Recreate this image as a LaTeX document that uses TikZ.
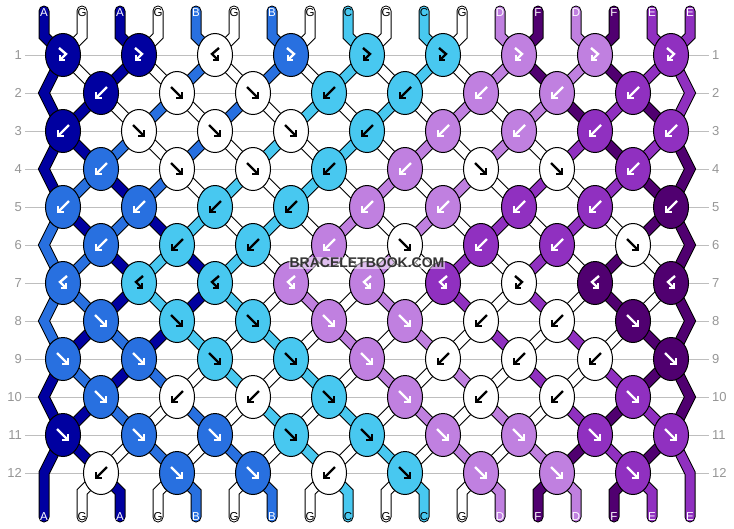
\documentclass[tikz,border=0pt]{standalone}
\usepackage{fontspec}
\setmainfont{Liberation Sans}
\usetikzlibrary{shapes.geometric}
\definecolor{colA}{RGB}{0,0,160}
\definecolor{colB}{RGB}{40,112,224}
\definecolor{colC}{RGB}{72,200,240}
\definecolor{colD}{RGB}{192,128,224}
\definecolor{colE}{RGB}{144,48,192}
\definecolor{colF}{RGB}{80,0,112}
\definecolor{colG}{RGB}{255,255,255}
\colorlet{tipA}{white}
\colorlet{tipB}{white}
\colorlet{tipC}{black}
\colorlet{tipD}{white}
\colorlet{tipE}{white}
\colorlet{tipF}{white}
\colorlet{tipG}{black}
\definecolor{rowgray}{RGB}{190,190,190}
\definecolor{numgray}{RGB}{150,150,150}
\pgfdeclarelayer{back}
\pgfdeclarelayer{strands}
\pgfsetlayers{back,strands,main}
\tikzstyle{knot} = [ellipse, draw=black, line width=1pt, minimum width=35pt, minimum height=43pt, inner sep=0pt]
\tikzstyle{strand} = [line width=1pt, double distance=9pt, line join=miter, line cap=round]
\tikzstyle{glyph} = [line width=2.4pt, line join=miter, line cap=butt]
\tikzstyle{rowline} = [draw=rowgray, line width=0.8pt]
\tikzstyle{rownum} = [text=numgray, font=\fontsize{13}{14}\selectfont, inner sep=3pt]
\tikzstyle{strlabel} = [font=\fontsize{11.5}{12}\selectfont, inner sep=0pt]
\tikzstyle{watermark} = [font=\bfseries\fontsize{14}{15}\selectfont, text=black!80, fill=white, fill opacity=0.5, text opacity=1, inner sep=1pt]
\tikzset{
  pics/arrF/.style={code={\draw[glyph] (-6,-6) -- (4,4); \draw[glyph] (5,-1) -- (5,5) -- (-1,5);}},
  pics/arrB/.style={code={\draw[glyph] (6,-6) -- (-4,4); \draw[glyph] (-5,-1) -- (-5,5) -- (1,5);}},
  pics/arrFB/.style={code={\draw[glyph] (-4,-7) -- (3,-1) -- (-2,4); \draw[glyph] (-3,0) -- (-3,5) -- (2,5);}},
  pics/arrBF/.style={code={\draw[glyph] (4,-7) -- (-3,-1) -- (2,4); \draw[glyph] (3,0) -- (3,5) -- (-2,5);}}
}
\begin{document}
\begin{tikzpicture}[x=1pt, y=-1pt]
\useasboundingbox (0,0) rectangle (734,528);
\begin{pgfonlayer}{back}
\fill[white] (0,0) rectangle (734,528);
\end{pgfonlayer}

% knots, row by row: colour/type
\foreach \r/\knots in {
  1/{A/FB,A/FB,G/BF,B/FB,C/FB,C/FB,D/FB,D/FB,E/FB},
  2/{A/B,G/F,G/F,C/B,C/B,D/B,D/B,E/B},
  3/{A/B,G/F,G/F,G/F,C/B,D/B,D/B,E/B,E/B},
  4/{B/B,G/F,G/F,C/B,D/B,G/F,G/F,E/B},
  5/{B/B,B/B,C/B,C/B,D/B,D/B,E/B,E/B,F/B},
  6/{B/B,C/B,C/B,D/B,G/F,E/B,E/B,G/F},
  7/{B/BF,C/BF,C/BF,D/BF,D/BF,E/BF,G/FB,F/BF,F/BF},
  8/{B/F,C/F,C/F,D/F,D/F,G/B,G/B,F/F},
  9/{B/F,B/F,C/F,C/F,D/F,G/B,G/B,G/B,F/F},
  10/{B/F,G/B,G/B,C/F,D/F,G/B,G/B,E/F},
  11/{A/F,B/F,B/F,C/F,C/F,D/F,D/F,E/F,E/F},
  12/{G/B,B/F,B/F,G/B,C/F,D/F,D/F,E/F}}{
  \pgfmathsetmacro\ky{55+38*(\r-1)}
  \foreach \c/\t [count=\j] in \knots {
    \pgfmathsetmacro\kx{63+38*mod(\r+1,2)+76*(\j-1)}
    \node[knot, fill=col\c] (k\r-\j) at (\kx,\ky) {};
    \pic[color=tip\c] at (k\r-\j) {arr\t};
  }
}
\foreach \r in {2,4,...,12}{
  \pgfmathsetmacro\ky{55+38*(\r-1)}
  \coordinate (k\r-0) at (44,\ky);
  \coordinate (k\r-9) at (690,\ky);
}

% string ends
\foreach \p/\c in {0/A,1/G,2/A,3/G,4/B,5/G,6/B,7/G,8/C,9/G,10/C,11/G,12/D,13/F,14/D,15/F,16/E,17/E}{
  \pgfmathsetmacro\sx{44+38*\p}
  \coordinate (top\p) at (\sx,11);
  \coordinate (topbend\p) at (\sx,36);
  \coordinate (botbend\p) at (\sx,492);
  \coordinate (bot\p) at (\sx,517);
  \node[strlabel, text=tip\c] (lt\p) at (\sx,12.5) {\c};
  \node[strlabel, text=tip\c] (lb\p) at (\sx,517) {\c};
}

% strings
\begin{pgfonlayer}{strands}
\foreach \s/\c in {0/A,1/G,2/A,3/G,4/B,5/G,6/B,7/G,8/C,9/G,10/C,11/G,12/D,13/F,14/D,15/F,16/E,17/E}{
  \xdef\strpath{(top\s) -- (topbend\s)}
  \foreach \r in {1,...,12}{
    \pgfmathtruncatemacro\m{max(0,min(\r-2,13-\r))}
    \pgfmathtruncatemacro\u{mod(\s,2)==0 ? \s-\m : \s+\m}
    \pgfmathtruncatemacro\q{\u<0 ? -1-(\u) : (\u>17 ? 35-\u : \u)}
    \pgfmathtruncatemacro\j{floor((\q+1+mod(\r,2))/2)}
    \xdef\strpath{\strpath -- (k\r-\j.center)}
  }
  \draw[strand, double=col\c] \strpath -- (botbend\s) -- (bot\s);
}
\end{pgfonlayer}

% row numbers
\foreach \r in {1,...,12}{
  \pgfmathsetmacro\ky{55+38*(\r-1)}
  \node[rownum, anchor=east] (rl\r) at (25,\ky) {\r};
  \node[rownum, anchor=west] (rr\r) at (709,\ky) {\r};
  \begin{pgfonlayer}{back}
  \draw[rowline] (rl\r.east) -- (rr\r.west);
  \end{pgfonlayer}
}

\node[watermark] (wm) at (367,263) {BRACELETBOOK.COM};
\end{tikzpicture}
\end{document}
